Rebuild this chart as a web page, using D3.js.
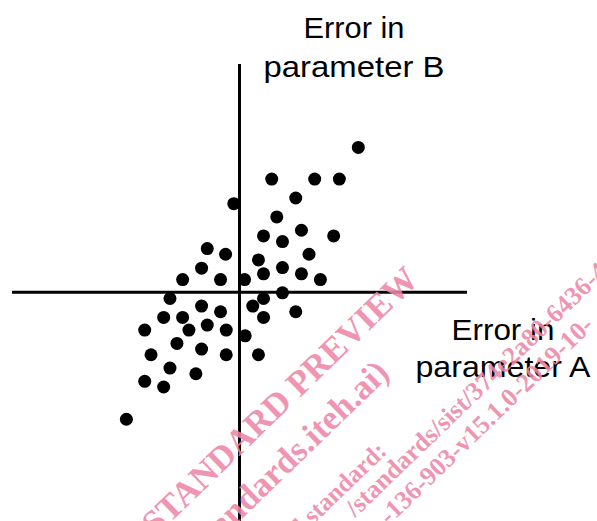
<!DOCTYPE html>
<html><head><meta charset="utf-8">
<script src="https://d3js.org/d3.v7.min.js"></script>
<style>
body { margin:0; background:white; }
</style>
</head>
<body>
<script>
// error in parameter A (x) and parameter B (y)
errA = [18.8, 5.1, 11.9, 15.8, 8.9, -0.9, 5.9, 3.8, 6.8, 9.8, 14.9, -5.1, -2.2, 3.0, 11.0, -6.0,
        6.8, 3.8, 9.8, -9.0, -3.0, 0.8, 12.8, 6.8,
        -11.0, 3.8, -6.0, -3.0, 2.1, 8.9, -12.0, -9.0, 3.8, -15.0, -8.0, -5.1, -2.1, 0.9, -9.9, -6.0,
        -14.0, -2.1, 3.0, -11.0, -6.9, -15.0, -12.0, -17.9];
errB = [22.9, 17.9, 17.9, 17.9, 14.9, 14.0, 11.9, 8.9, 8.0, 9.8, 8.9, 6.9, 6.0, 5.1, 6.0, 3.8,
        3.9, 2.9, 2.9, 2.0, 2.0, 2.0, 2.0, -0.1,
        -1.0, -1.0, -2.2, -3.1, -2.2, -3.1, -4.0, -4.0, -4.0, -6.0, -6.0, -5.2, -6.0, -6.9, -8.1, -9.0,
        -9.9, -9.9, -9.9, -12.0, -12.9, -14.1, -15.0, -20.1];

labelB = ["Error in", "parameter B"];
labelA = ["Error in", "parameter A"];

wmLines = ["iTeh STANDARD PREVIEW", "(standards.iteh.ai)", "Full standard:",
           "/standards/sist/374e2a80-6436-4d5c-a1b7", "-136-903-v15.1.0-2019-10-"];

W = 597; H = 521;

svg = d3.select("body").append("svg")
  .attr("width", W)
  .attr("height", H);

x = d3.scaleLinear().domain([-36, 36]).range([12, 467]);
y = d3.scaleLinear().domain([-36.2, 36.1]).range([521, 64]);

// axes as plain crossing lines
svg.append("line")
  .attr("x1", x(-36)).attr("x2", x(36))
  .attr("y1", y(0)).attr("y2", y(0))
  .attr("stroke", "black").attr("stroke-width", 3);

svg.append("line")
  .attr("x1", x(0)).attr("x2", x(0))
  .attr("y1", y(36.1)).attr("y2", y(-36.2))
  .attr("stroke", "black").attr("stroke-width", 3);

pts = d3.range(errA.length).map(function(i){ return {a: errA[i], b: errB[i]}; });

svg.selectAll("circle")
  .data(pts)
  .enter()
  .append("circle")
  .attr("cx", function(d){ return x(d.a); })
  .attr("cy", function(d){ return y(d.b); })
  .attr("r", 6.5)
  .attr("fill", "black");

// axis labels
function label(lines, cx, ys, lens) {
  svg.selectAll(null)
    .data(lines)
    .enter()
    .append("text")
    .attr("x", cx)
    .attr("y", function(d, i){ return ys[i]; })
    .attr("text-anchor", "middle")
    .attr("font-family", "Liberation Sans, Arial, sans-serif")
    .attr("font-size", 29)
    .attr("textLength", function(d, i){ return lens[i]; })
    .attr("lengthAdjust", "spacingAndGlyphs")
    .attr("fill", "black")
    .text(function(d){ return d; });
}
label(labelB, 354, [38, 77], [101, 181]);
label(labelA, 503, [340, 377], [103, 175]);

// watermark
wm = svg.append("g")
  .attr("transform", "translate(353,340) rotate(-44)")
  .attr("fill", "#ee86a6")
  .attr("fill-opacity", 0.88)
  .attr("font-family", "Liberation Serif, Times New Roman, serif")
  .attr("font-weight", "bold");

wmX = [89, 3, -53, -122, -103];
wmY = [-7, 40, 97, 121, 150];
wmSize = [35, 35, 25, 26, 26];
wmAnchor = ["end", "end", "end", "start", "start"];

wm.selectAll("text")
  .data(wmLines)
  .enter()
  .append("text")
  .attr("x", function(d, i){ return wmX[i]; })
  .attr("y", function(d, i){ return wmY[i] + wmSize[i] * 0.33; })
  .attr("font-size", function(d, i){ return wmSize[i]; })
  .attr("text-anchor", function(d, i){ return wmAnchor[i]; })
  .text(function(d){ return d; });
</script>
</body></html>
